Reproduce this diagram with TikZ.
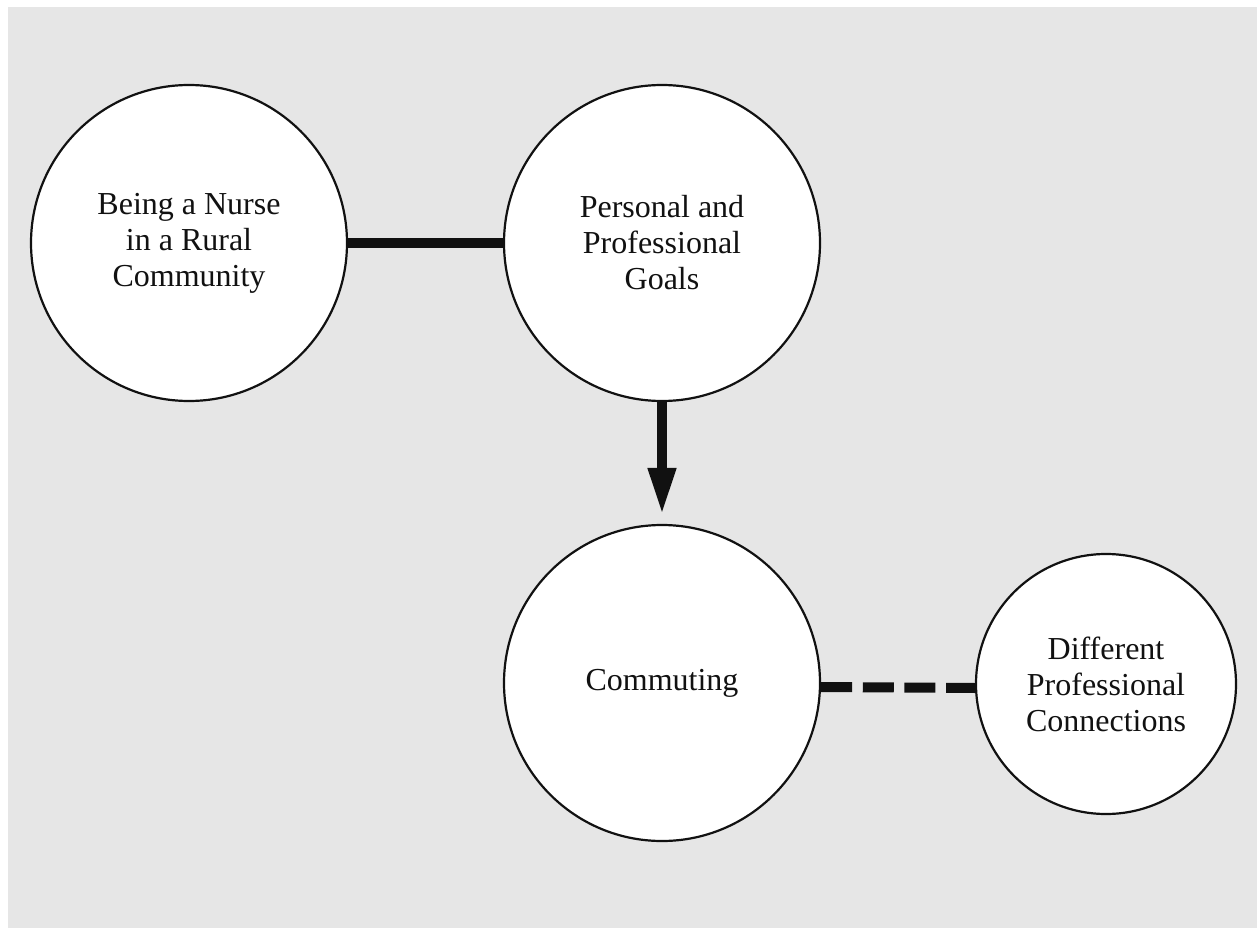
\documentclass[tikz,border=0pt]{standalone}
\usepackage{fontspec}
\setmainfont{Liberation Serif}
\usetikzlibrary{arrows.meta}
\definecolor{bggray}{RGB}{230,230,230}
\definecolor{ink}{RGB}{17,17,17}
\tikzset{
  bubble/.style={circle, draw=ink, line width=2.2pt, fill=white, inner sep=0pt,
    align=center, text=ink, font=\fontsize{32}{36}\selectfont},
  big/.style={bubble, minimum size=316pt},
  small/.style={bubble, minimum size=260pt},
  link/.style={draw=ink, line width=10pt},
  dashlink/.style={link, dash pattern=on 31pt off 10.67pt},
  arrowlink/.style={link, -{Triangle[width=26pt,length=47pt]}, shorten >=9pt}
}
\begin{document}
\begin{tikzpicture}[x=1pt,y=-1pt]
\useasboundingbox (0,0) rectangle (1259,928);
\fill[white] (0,0) rectangle (1259,928);
\fill[bggray] (8,7) rectangle (1257,928);
\node[big] (c1) at (189,243) {Being a Nurse\\in a Rural\\Community};
\node[big] (c2) at (662,243) {Personal and\\Professional\\Goals};
\node[big] (c3) at (662,683) {Commuting};
\node[small] (c4) at (1106,684) {Different\\Professional\\Connections};
\draw[link] (c1.east) -- (c2.west);
\draw[arrowlink] (c2.south) -- (c3.north);
\draw[dashlink] ([yshift=-4pt]c3.east) -- ([yshift=-4pt]c4.west);
\end{tikzpicture}
\end{document}
